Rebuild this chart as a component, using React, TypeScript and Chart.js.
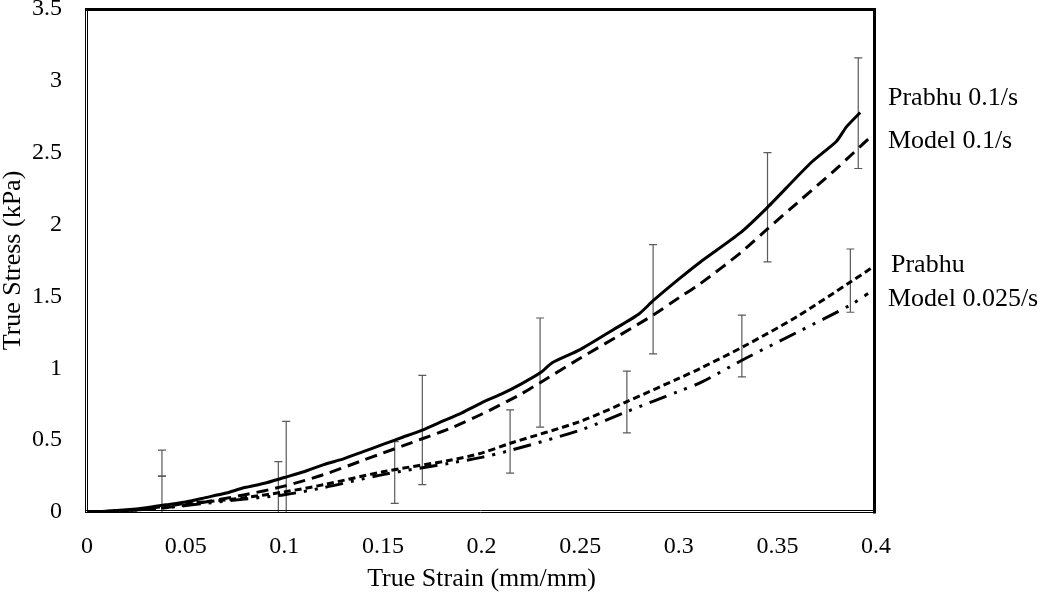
import React, { useEffect, useRef } from "react";
import { Chart, registerables } from "chart.js";

Chart.register(...registerables);

// ---- data ----
const prabhu01X = [0, 0.01, 0.02, 0.03, 0.04, 0.05, 0.06, 0.07, 0.08, 0.09, 0.1, 0.11, 0.12, 0.13, 0.14, 0.15, 0.16, 0.17, 0.18, 0.19, 0.2, 0.21, 0.22, 0.23, 0.236, 0.25, 0.267, 0.28, 0.287, 0.3, 0.311, 0.331, 0.345, 0.367, 0.38, 0.385, 0.392];
const prabhu01Y = [0, 0.005, 0.015, 0.03, 0.05, 0.07, 0.1, 0.13, 0.17, 0.2, 0.24, 0.28, 0.33, 0.37, 0.42, 0.47, 0.52, 0.57, 0.63, 0.69, 0.76, 0.82, 0.89, 0.97, 1.04, 1.13, 1.27, 1.38, 1.47, 1.62, 1.74, 1.94, 2.12, 2.43, 2.58, 2.68, 2.78];

const model01X = [0, 0.02, 0.04, 0.06, 0.08, 0.1, 0.12, 0.14, 0.15, 0.16, 0.18, 0.1855, 0.2, 0.22, 0.2297, 0.25, 0.27, 0.287, 0.3, 0.311, 0.331, 0.345, 0.36, 0.38, 0.398];
const model01Y = [0, 0.01, 0.03, 0.07, 0.12, 0.18, 0.26, 0.36, 0.41, 0.46, 0.56, 0.59, 0.68, 0.82, 0.9, 1.07, 1.23, 1.37, 1.49, 1.59, 1.8, 1.97, 2.15, 2.39, 2.62];

const prabhu0025X = [0, 0.02, 0.04, 0.05, 0.06, 0.08, 0.1, 0.12, 0.15, 0.184, 0.2, 0.215, 0.25, 0.274, 0.3, 0.311, 0.334, 0.36, 0.387, 0.398];
const prabhu0025Y = [0, 0.01, 0.04, 0.06, 0.07, 0.1, 0.14, 0.19, 0.28, 0.36, 0.41, 0.48, 0.63, 0.77, 0.93, 1.0, 1.16, 1.36, 1.6, 1.7];

const model0025X = [0, 0.02, 0.04, 0.06, 0.08, 0.1, 0.12, 0.15, 0.184, 0.2, 0.215, 0.25, 0.274, 0.3, 0.311, 0.334, 0.36, 0.387, 0.396];
const model0025Y = [0, 0.01, 0.03, 0.06, 0.09, 0.12, 0.17, 0.26, 0.34, 0.38, 0.43, 0.57, 0.7, 0.84, 0.9, 1.07, 1.25, 1.44, 1.52];

const errX = [0.038, 0.038, 0.097, 0.101, 0.156, 0.17, 0.2145, 0.2297, 0.2737, 0.287, 0.332, 0.345, 0.387, 0.391];
const errLow = [0.25, -0.1, -0.1, -0.1, 0.06, 0.19, 0.27, 0.59, 0.55, 1.1, 0.94, 1.74, 1.39, 2.39];
const errHigh = [0.43, 0.25, 0.35, 0.63, 0.49, 0.95, 0.71, 1.35, 0.98, 1.86, 1.37, 2.5, 1.83, 3.16];

const seriesNames = ["Prabhu 0.1/s", "Model 0.1/s", "Prabhu", "Model 0.025/s"];
const xTicks = [0, 0.05, 0.1, 0.15, 0.2, 0.25, 0.3, 0.35, 0.4];
const yTicks = [0, 0.5, 1, 1.5, 2, 2.5, 3, 3.5];

const FONT = "'Liberation Serif', 'Times New Roman', serif";

const toPts = (xs: number[], ys: number[]) => xs.map((x, i) => ({ x, y: ys[i] }));

const errorBarPlugin = {
  id: "errorBars",
  beforeDatasetsDraw(chart: any) {
    const { ctx, chartArea, scales } = chart;
    ctx.save();
    ctx.beginPath();
    ctx.rect(chartArea.left, chartArea.top, chartArea.right - chartArea.left, chartArea.bottom - chartArea.top);
    ctx.clip();
    ctx.strokeStyle = "#5a5a5a";
    ctx.lineWidth = 1.2;
    errX.forEach((x, i) => {
      const px = scales.x.getPixelForValue(x);
      const y1 = scales.y.getPixelForValue(errLow[i]);
      const y2 = scales.y.getPixelForValue(errHigh[i]);
      ctx.beginPath();
      ctx.moveTo(px, y1);
      ctx.lineTo(px, y2);
      ctx.moveTo(px - 4, y1);
      ctx.lineTo(px + 4, y1);
      ctx.moveTo(px - 4, y2);
      ctx.lineTo(px + 4, y2);
      ctx.stroke();
    });
    ctx.restore();
  },
};

const framePlugin = {
  id: "frame",
  afterDatasetsDraw(chart: any) {
    const { ctx, chartArea } = chart;
    const { left, right, top, bottom } = chartArea;
    ctx.save();
    ctx.strokeStyle = "#000";
    ctx.lineWidth = 1;
    ctx.beginPath();
    ctx.moveTo(left - 1.5, top);
    ctx.lineTo(left - 1.5, bottom + 1);
    ctx.moveTo(left + 0.5, top);
    ctx.lineTo(left + 0.5, bottom + 1);
    ctx.moveTo(left - 2, bottom - 1.5);
    ctx.lineTo(right, bottom - 1.5);
    ctx.moveTo(left - 2, bottom + 0.5);
    ctx.lineTo(right, bottom + 0.5);
    ctx.stroke();
    ctx.lineWidth = 3;
    ctx.beginPath();
    ctx.moveTo(left - 2, top + 0.5);
    ctx.lineTo(right, top + 0.5);
    ctx.moveTo(right - 1.5, top - 1);
    ctx.lineTo(right - 1.5, bottom + 1.5);
    ctx.stroke();
    ctx.restore();
  },
};

const labelPos = [
  { x: 888, y: 98 },
  { x: 888, y: 141 },
  { x: 891, y: 265 },
  { x: 888, y: 299 },
];

const seriesLabelPlugin = {
  id: "seriesLabels",
  afterDraw(chart: any) {
    const { ctx } = chart;
    ctx.save();
    ctx.fillStyle = "#000";
    ctx.font = `26px ${FONT}`;
    ctx.textAlign = "left";
    ctx.textBaseline = "middle";
    seriesNames.forEach((name, i) => {
      ctx.fillText(name, labelPos[i].x, labelPos[i].y);
    });
    ctx.restore();
  },
};

export default function App() {
  const ref = useRef<HTMLCanvasElement | null>(null);

  useEffect(() => {
    if (!ref.current) return;
    const chart = new Chart(ref.current, {
      type: "scatter",
      data: {
        datasets: [
          {
            label: seriesNames[0],
            data: toPts(prabhu01X, prabhu01Y),
            showLine: true,
            borderColor: "#000",
            borderWidth: 3,
            pointRadius: 0,
            tension: 0.2,
          },
          {
            label: seriesNames[1],
            data: toPts(model01X, model01Y),
            showLine: true,
            borderColor: "#000",
            borderWidth: 3,
            borderDash: [12, 7],
            pointRadius: 0,
            tension: 0.3,
          },
          {
            label: seriesNames[2],
            data: toPts(prabhu0025X, prabhu0025Y),
            showLine: true,
            borderColor: "#000",
            borderWidth: 3,
            borderDash: [7, 4],
            pointRadius: 0,
            tension: 0.3,
          },
          {
            label: seriesNames[3],
            data: toPts(model0025X, model0025Y),
            showLine: true,
            borderColor: "#000",
            borderWidth: 3,
            borderDash: [18, 8, 3, 8, 3, 8],
            pointRadius: 0,
            tension: 0.3,
          },
        ],
      },
      options: {
        responsive: false,
        animation: false,
        devicePixelRatio: 1,
        layout: { padding: { top: 9, right: 166, left: 0, bottom: 0 } },
        plugins: {
          legend: { display: false },
          tooltip: { enabled: false },
        },
        scales: {
          x: {
            type: "linear",
            min: 0,
            max: 0.4,
            afterFit: (s: any) => {
              s.height = 80;
              s.paddingLeft = 0;
              s.paddingRight = 0;
              s.paddingTop = 0;
              s.paddingBottom = 0;
            },
            afterBuildTicks: (s: any) => {
              s.ticks = xTicks.map((v) => ({ value: v }));
            },
            grid: { display: false, drawTicks: false },
            border: { display: false },
            ticks: {
              color: "#000",
              font: { family: FONT, size: 24 },
              padding: 20,
              maxRotation: 0,
              autoSkip: false,
              callback: (v: any) => String(Number(v)),
            },
            title: {
              display: true,
              text: "True Strain (mm/mm)",
              color: "#000",
              font: { family: FONT, size: 26, lineHeight: 1 },
              padding: 0,
            },
          },
          y: {
            type: "linear",
            min: 0,
            max: 3.5,
            afterFit: (s: any) => {
              s.width = 87;
              s.paddingLeft = 0;
              s.paddingRight = 0;
              s.paddingTop = 0;
              s.paddingBottom = 0;
            },
            afterBuildTicks: (s: any) => {
              s.ticks = yTicks.map((v) => ({ value: v }));
            },
            grid: { display: false, drawTicks: false },
            border: { display: false },
            ticks: {
              color: "#000",
              font: { family: FONT, size: 24 },
              padding: 25,
              autoSkip: false,
              callback: (v: any) => String(Number(v)),
            },
            title: {
              display: true,
              text: "True Stress (kPa)",
              color: "#000",
              font: { family: FONT, size: 26, lineHeight: 1 },
              padding: 0,
            },
          },
        },
      },
      plugins: [errorBarPlugin, framePlugin, seriesLabelPlugin],
    } as any);
    return () => chart.destroy();
  }, []);

  return (
    <div style={{ position: "absolute", left: 0, top: 0, width: 1042, height: 592, background: "#fff" }}>
      <canvas ref={ref} width={1042} height={592} style={{ display: "block", width: 1042, height: 592 }} />
    </div>
  );
}
